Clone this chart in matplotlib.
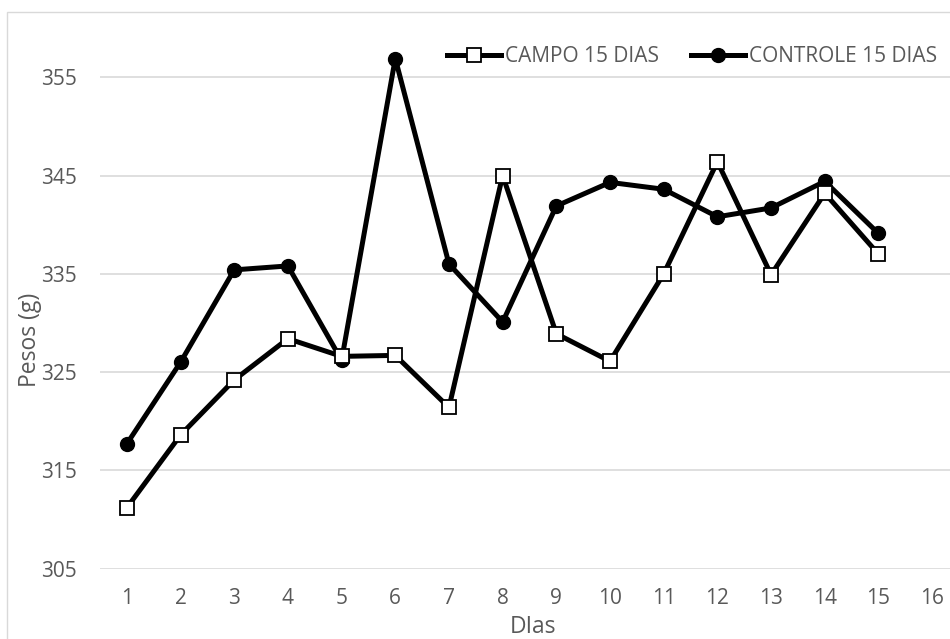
import matplotlib
matplotlib.use("Agg")
import matplotlib.pyplot as plt
from matplotlib.lines import Line2D

dias = list(range(1, 16))
campo = [311.2, 318.6, 324.2, 328.4, 326.6, 326.7, 321.4, 345.0, 328.9, 326.1,
         335.0, 346.4, 334.9, 343.2, 337.0]
controle = [317.7, 326.0, 335.4, 335.8, 326.2, 356.9, 336.0, 330.1, 341.9, 344.3,
            343.6, 340.8, 341.7, 344.4, 339.1]
xticks = list(range(1, 17))
yticks = [305, 315, 325, 335, 345, 355]

plt.rcParams['font.family'] = ['Open Sans', 'DejaVu Sans']
W, H = 950, 639
fig = plt.figure(figsize=(W / 100, H / 100), dpi=100)

# chart border
fig.add_artist(plt.Rectangle((7 / W, -0.1), 1.2, 1 - 12 / H + 0.1, transform=fig.transFigure,
                             fill=False, edgecolor='#d9d9d9', linewidth=1.0))

y0 = 568.7
ppu = 9.83
ymax = 360.5
left = 100 / W
width = 859 / W
bottom = (H - y0) / H
height = (ymax - 305) * ppu / H
ax = fig.add_axes([left, bottom, width, height])
ax.set_xlim(0.5, 16.5)
ax.set_ylim(305, ymax)
for s in ax.spines.values():
    s.set_visible(False)
ax.set_yticks(yticks)
ax.set_xticks(xticks)
ax.grid(axis='y', color='#d9d9d9', linewidth=1.2)
ax.set_axisbelow(True)
ax.tick_params(length=0, labelsize=15, colors='#595959')
ax.tick_params(axis='x', pad=14)
ax.tick_params(axis='y', pad=16.5)

ax.plot(dias, controle, color='black', linewidth=3.6, marker='o', markersize=10,
        markerfacecolor='black', markeredgecolor='black', zorder=3, label='CONTROLE 15 DIAS')
ax.plot(dias, campo, color='black', linewidth=3.6, marker='s', markersize=9.5,
        markerfacecolor='white', markeredgecolor='black', markeredgewidth=1.3, zorder=4,
        label='CAMPO 15 DIAS')

fig.text(533 / W, 1 - 627 / H, 'DIas', ha='center', va='center', fontsize=16.5, color='#595959')
fig.text(30 / W, 1 - 340 / H, 'Pesos (g)', ha='center', va='center', rotation=90,
         fontsize=16.5, color='#595959')

h1 = Line2D([], [], color='black', linewidth=3.6, marker='s', markersize=9.5,
            markerfacecolor='white', markeredgecolor='black', markeredgewidth=1.3)
h2 = Line2D([], [], color='black', linewidth=3.6, marker='o', markersize=10,
            markerfacecolor='black', markeredgecolor='black')
leg = fig.legend([h1, h2], ['CAMPO 15 DIAS', 'CONTROLE 15 DIAS'], loc='center left',
                 bbox_to_anchor=(447 / W, 1 - 57 / H), ncol=2, frameon=False, fontsize=15,
                 handlelength=2.6, handletextpad=0.2, columnspacing=1.5, borderpad=0,
                 borderaxespad=0)
for t in leg.get_texts():
    t.set_color('#595959')

fig.savefig('out.png', dpi=100)
